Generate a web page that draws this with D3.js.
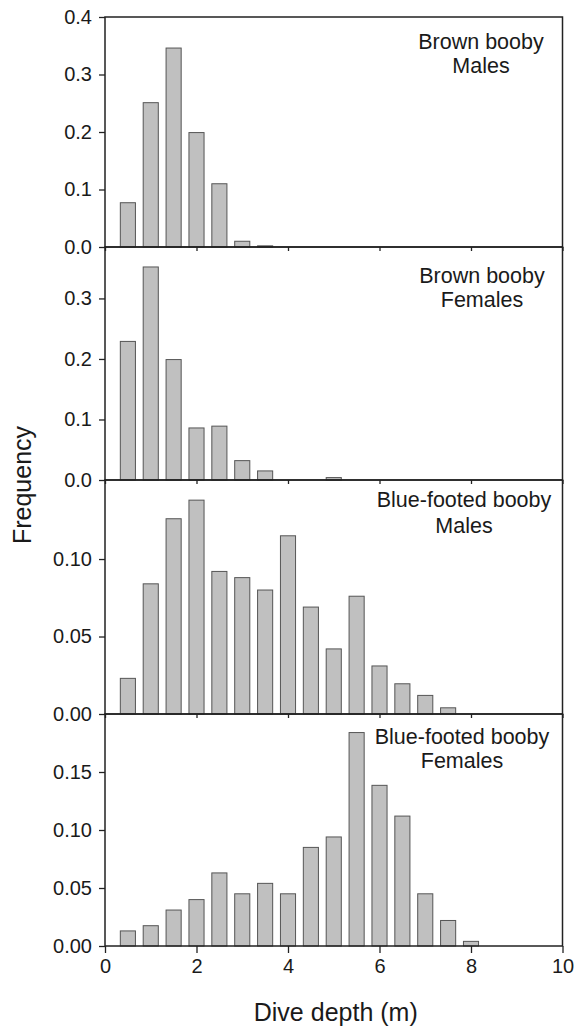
<!DOCTYPE html>
<html>
<head>
<meta charset="utf-8">
<script src="https://cdn.jsdelivr.net/npm/d3@7"></script>
<style>
  html, body { margin: 0; padding: 0; background: #fff; }
  svg { display: block; }
  text { font-family: "Liberation Sans", Arial, Helvetica, sans-serif; fill: #1a1a1a; }
</style>
</head>
<body>
<svg id="chart" width="574" height="1027"></svg>
<script>
// ---- Data ----
const depthBins = [0.5, 1.0, 1.5, 2.0, 2.5, 3.0, 3.5, 4.0, 4.5, 5.0, 5.5, 6.0, 6.5, 7.0, 7.5, 8.0];
const brownMales   = [0.077, 0.251, 0.346, 0.199, 0.110, 0.010, 0.002, 0, 0, 0, 0, 0, 0, 0, 0, 0];
const brownFemales = [0.229, 0.352, 0.199, 0.086, 0.089, 0.032, 0.015, 0, 0, 0.004, 0, 0, 0, 0, 0, 0];
const blueMales    = [0.023, 0.084, 0.126, 0.138, 0.092, 0.088, 0.080, 0.115, 0.069, 0.042, 0.076, 0.031, 0.0195, 0.012, 0.004, 0];
const blueFemales  = [0.013, 0.0175, 0.031, 0.040, 0.063, 0.045, 0.054, 0.045, 0.085, 0.094, 0.184, 0.1385, 0.112, 0.045, 0.022, 0.004];
const panelLabels = [["Brown booby", "Males"], ["Brown booby", "Females"], ["Blue-footed booby", "Males"], ["Blue-footed booby", "Females"]];
const yMaxes = [0.4, 0.385, 0.151, 0.2];
const yTickValues = [[0, 0.1, 0.2, 0.3, 0.4], [0, 0.1, 0.2, 0.3], [0, 0.05, 0.10], [0, 0.05, 0.10, 0.15]];
const yTickFormats = [".1f", ".1f", ".2f", ".2f"];
const xTickValues = [0, 2, 4, 6, 8, 10];
const xTitle = "Dive depth (m)";
const yTitle = "Frequency";
const barWidthUnits = 0.33;

// ---- Layout ----
const svg = d3.select("#chart");
const left = 105, right = 562.5;
const panelTops = [17, 247, 480, 714];
const panelBottoms = [247, 480, 714, 946];
const labelPos = [
  {x: 481, y1: 49, y2: 72.5},
  {x: 482, y1: 283, y2: 306.5},
  {x: 464, y1: 507, y2: 533},
  {x: 462, y1: 744, y2: 768}
];
const series = [brownMales, brownFemales, blueMales, blueFemales];

const x = d3.scaleLinear().domain([0, 10]).range([left, right]);
const bw = x(barWidthUnits) - x(0);

series.forEach((vals, i) => {
  const y = d3.scaleLinear().domain([0, yMaxes[i]]).range([panelBottoms[i], panelTops[i]]);
  const g = svg.append("g");
  const data = depthBins.map((d, j) => ({d, v: vals[j]})).filter(e => e.v > 0);

  g.selectAll("rect.bar").data(data).enter().append("rect")
    .attr("class", "bar")
    .attr("x", e => x(e.d) - bw / 2)
    .attr("width", bw)
    .attr("y", e => y(e.v))
    .attr("height", e => y(0) - y(e.v))
    .attr("fill", "#c0c0c0")
    .attr("stroke", "#555")
    .attr("stroke-width", 1);

  // frame
  g.append("rect")
    .attr("x", left).attr("y", panelTops[i])
    .attr("width", right - left).attr("height", panelBottoms[i] - panelTops[i])
    .attr("fill", "none").attr("stroke", "#222").attr("stroke-width", 1.5);

  // y axis
  const yAxis = d3.axisLeft(y).tickValues(yTickValues[i]).tickFormat(d3.format(yTickFormats[i]))
    .tickSize(6).tickSizeOuter(0).tickPadding(7);
  const ya = g.append("g").attr("transform", `translate(${left},0)`).call(yAxis);
  ya.select(".domain").remove();
  ya.selectAll("line").attr("stroke", "#222").attr("stroke-width", 1.3);
  ya.selectAll("text").attr("font-size", 20).attr("fill", "#1a1a1a")
    .attr("font-family", '"Liberation Sans", Arial, sans-serif');

  // x axis
  const isBottom = i === series.length - 1;
  const xAxis = d3.axisBottom(x).tickValues(xTickValues).tickSize(isBottom ? 7 : 4).tickSizeOuter(0).tickPadding(6)
    .tickFormat(isBottom ? d3.format("d") : () => "");
  const xa = g.append("g").attr("transform", `translate(0,${panelBottoms[i]})`).call(xAxis);
  xa.select(".domain").remove();
  xa.selectAll("line").attr("stroke", "#222").attr("stroke-width", 1.3);
  xa.selectAll("text").attr("font-size", 20).attr("fill", "#1a1a1a")
    .attr("font-family", '"Liberation Sans", Arial, sans-serif');

  // panel label
  const lp = labelPos[i];
  g.append("text").attr("x", lp.x).attr("y", lp.y1).attr("text-anchor", "middle")
    .attr("font-size", 21.5).text(panelLabels[i][0]);
  g.append("text").attr("x", lp.x).attr("y", lp.y2).attr("text-anchor", "middle")
    .attr("font-size", 21.5).text(panelLabels[i][1]);
});

// axis titles
svg.append("text").attr("x", (left + right) / 2 + 2).attr("y", 1021).attr("text-anchor", "middle")
  .attr("font-size", 25).text(xTitle);
svg.append("text").attr("transform", `translate(31,485) rotate(-90)`).attr("text-anchor", "middle")
  .attr("font-size", 25).text(yTitle);
</script>
</body>
</html>
